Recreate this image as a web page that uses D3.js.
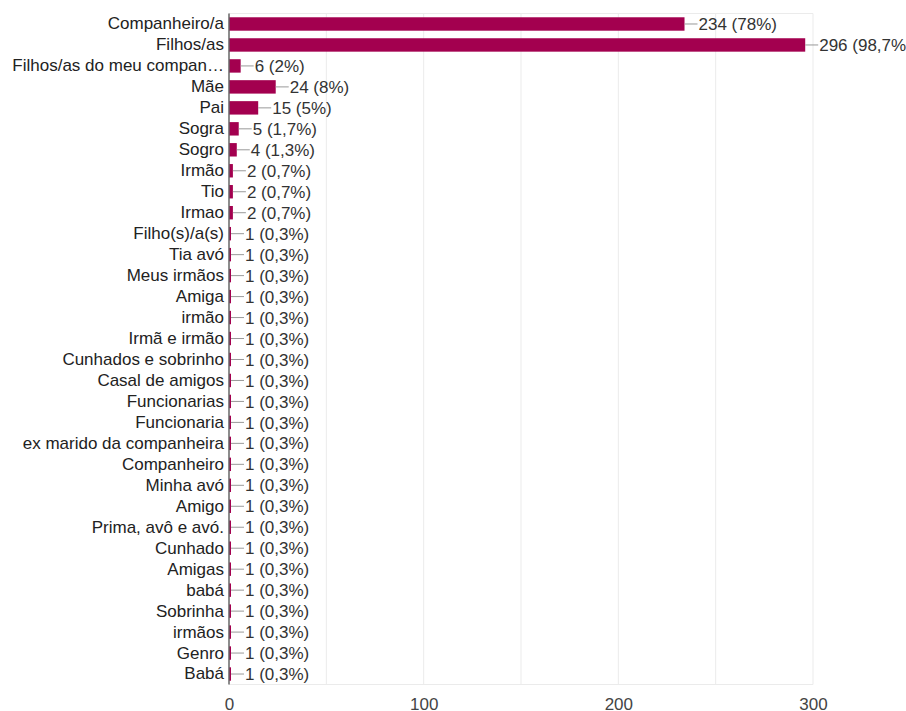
<!DOCTYPE html>
<html>
<head>
<meta charset="utf-8">
<script src="https://cdn.jsdelivr.net/npm/d3@7"></script>
<style>
  html, body { margin: 0; padding: 0; background: #fff; overflow: hidden; }
  svg { display: block; font-family: "Liberation Sans", Arial, sans-serif; }
</style>
</head>
<body>
<svg id="chart" width="906" height="711"></svg>
<script>
// Respostas: com quem vive
const categories = [
  "Companheiro/a", "Filhos/as", "Filhos/as do meu compan\u2026", "Mãe", "Pai",
  "Sogra", "Sogro", "Irmão", "Tio", "Irmao", "Filho(s)/a(s)", "Tia avó",
  "Meus irmãos", "Amiga", "irmão", "Irmã e irmão", "Cunhados e sobrinho",
  "Casal de amigos", "Funcionarias", "Funcionaria", "ex marido da companheira",
  "Companheiro", "Minha avó", "Amigo", "Prima, avô e avó.", "Cunhado", "Amigas",
  "babá", "Sobrinha", "irmãos", "Genro", "Babá"
];
const counts = [
  234, 296, 6, 24, 15, 5, 4, 2, 2, 2, 1, 1, 1, 1, 1, 1, 1, 1, 1, 1, 1,
  1, 1, 1, 1, 1, 1, 1, 1, 1, 1, 1
];
const percents = [
  "78%", "98,7%", "2%", "8%", "5%", "1,7%", "1,3%", "0,7%", "0,7%", "0,7%",
  "0,3%", "0,3%", "0,3%", "0,3%", "0,3%", "0,3%", "0,3%", "0,3%", "0,3%", "0,3%",
  "0,3%", "0,3%", "0,3%", "0,3%", "0,3%", "0,3%", "0,3%", "0,3%", "0,3%", "0,3%",
  "0,3%", "0,3%"
];
const xTicks = [0, 100, 200, 300];
const gridValues = [50, 100, 150, 200, 250, 300];

const rows = categories.map((c, i) => ({ cat: c, n: counts[i], pct: percents[i] }));

const svg = d3.select("#chart");
const plotL = 229, plotR = 813, plotT = 13.5, plotB = 684.5;

const x = d3.scaleLinear().domain([0, 300]).range([plotL, plotR]);
const y = d3.scaleBand().domain(categories).range([plotT, plotB]).paddingInner(0.36).paddingOuter(0.18);

// frame and gridlines
svg.append("g").selectAll("line").data(gridValues).join("line")
  .attr("x1", d => x(d)).attr("x2", d => x(d))
  .attr("y1", plotT).attr("y2", plotB)
  .attr("stroke", "#ebebeb").attr("stroke-width", 1);
svg.append("line").attr("x1", plotL).attr("x2", plotR).attr("y1", plotT).attr("y2", plotT)
  .attr("stroke", "#ebebeb");
svg.append("line").attr("x1", plotL).attr("x2", plotR).attr("y1", plotB).attr("y2", plotB)
  .attr("stroke", "#ebebeb");

// bars
svg.append("g").selectAll("rect").data(rows).join("rect")
  .attr("x", x(0))
  .attr("y", d => y(d.cat))
  .attr("width", d => Math.max(2, x(d.n) - x(0)))
  .attr("height", y.bandwidth())
  .attr("fill", "#a3004f");

// leader lines and value labels
const lab = svg.append("g");
rows.forEach(d => {
  const xe = x(0) + Math.max(2, x(d.n) - x(0));
  const cy = y(d.cat) + y.bandwidth() / 2;
  lab.append("line")
    .attr("x1", xe).attr("x2", xe + 13)
    .attr("y1", cy).attr("y2", cy)
    .attr("stroke", "#999").attr("stroke-width", 1);
  lab.append("text")
    .attr("x", xe + 14).attr("y", cy)
    .attr("dy", "0.36em")
    .attr("font-size", 17).attr("fill", "#333")
    .text(`${d.n} (${d.pct})`);
});

// category axis
const yAxis = svg.append("g").attr("transform", `translate(${plotL},0)`)
  .call(d3.axisLeft(y).tickSize(0).tickPadding(5));
yAxis.select(".domain").attr("stroke", "#666").attr("stroke-width", 1.5)
  .attr("d", `M0,${plotT}V${plotB}`);
yAxis.selectAll("text").attr("font-size", 17).attr("fill", "#222")
  .attr("font-family", "Liberation Sans, Arial, sans-serif");

// value axis
const xAxis = svg.append("g").attr("transform", `translate(0,${plotB})`)
  .call(d3.axisBottom(x).tickValues(xTicks).tickSize(0).tickPadding(13));
xAxis.select(".domain").remove();
xAxis.selectAll("text").attr("font-size", 17).attr("fill", "#444")
  .attr("font-family", "Liberation Sans, Arial, sans-serif");
</script>
</body>
</html>
